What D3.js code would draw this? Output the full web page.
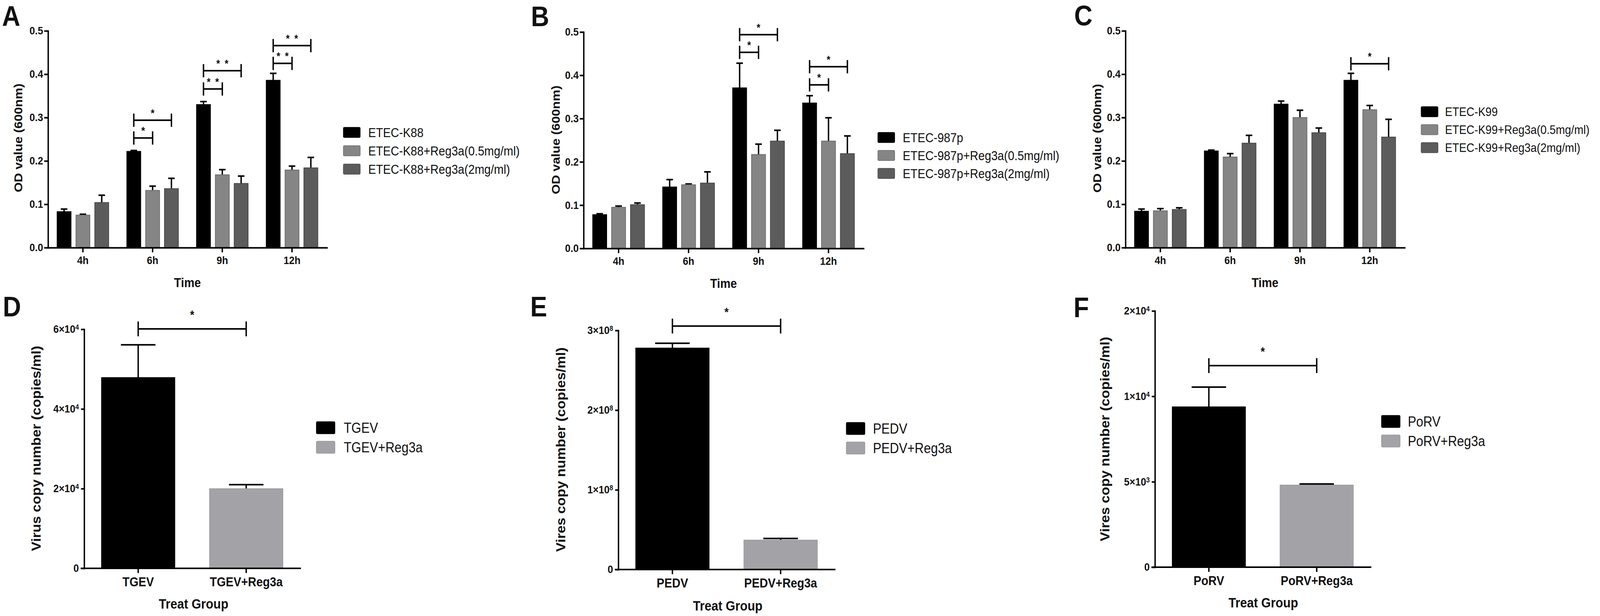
<!DOCTYPE html>
<html lang="en">
<head>
<meta charset="UTF-8">
<title>Reg3a</title>
<style>
  html, body { margin: 0; padding: 0; background: #fff; overflow: hidden; }
  svg text { font-family: "Liberation Sans", Arial, Helvetica, sans-serif; fill: #111; }
</style>
</head>
<body>
<script src="https://cdn.jsdelivr.net/npm/d3@7/dist/d3.min.js"></script>
<script>
// ---- data ----
var times = ["4h", "6h", "9h", "12h"];
var odTicks = [0, 0.1, 0.2, 0.3, 0.4, 0.5];

// A
var k88Names = ["ETEC-K88", "ETEC-K88+Reg3a(0.5mg/ml)", "ETEC-K88+Reg3a(2mg/ml)"];
var k88Mean = [[0.083, 0.222, 0.330, 0.386], [0.075, 0.132, 0.168, 0.179], [0.104, 0.136, 0.148, 0.184]];
var k88Err  = [[0.006, 0.002, 0.007, 0.016], [0.002, 0.010, 0.012, 0.009], [0.017, 0.024, 0.017, 0.024]];
// [time index, from series, to series, bracket level, stars]
var k88Sig = [[1, 0, 1, 0.253, "*"], [1, 0, 2, 0.294, "*"], [2, 0, 1, 0.366, "**"],
              [2, 0, 2, 0.408, "**"], [3, 0, 1, 0.425, "**"], [3, 0, 2, 0.466, "**"]];

// B
var p987Names = ["ETEC-987p", "ETEC-987p+Reg3a(0.5mg/ml)", "ETEC-987p+Reg3a(2mg/ml)"];
var p987Mean = [[0.078, 0.142, 0.371, 0.336], [0.095, 0.147, 0.217, 0.248], [0.101, 0.151, 0.248, 0.219]];
var p987Err  = [[0.002, 0.017, 0.057, 0.017], [0.003, 0.002, 0.024, 0.054], [0.004, 0.026, 0.025, 0.041]];
var p987Sig = [[2, 0, 1, 0.453, "*"], [2, 0, 2, 0.494, "*"], [3, 0, 1, 0.378, "*"], [3, 0, 2, 0.420, "*"]];

// C
var k99Names = ["ETEC-K99", "ETEC-K99+Reg3a(0.5mg/ml)", "ETEC-K99+Reg3a(2mg/ml)"];
var k99Mean = [[0.084, 0.223, 0.331, 0.386], [0.085, 0.209, 0.300, 0.318], [0.088, 0.241, 0.265, 0.255]];
var k99Err  = [[0.005, 0.002, 0.007, 0.016], [0.005, 0.008, 0.017, 0.010], [0.004, 0.018, 0.011, 0.041]];
var k99Sig = [[3, 0, 2, 0.424, "*"]];

// D
var tgevGroups = ["TGEV", "TGEV+Reg3a"];
var tgevMean = [47900, 20000];
var tgevErr = [8200, 1000];
var tgevTicks = [0, 20000, 40000, 60000];
var tgevTickLabels = ["0", "2×10^4", "4×10^4", "6×10^4"];
var tgevSig = [60100, "*"];

// E
var pedvGroups = ["PEDV", "PEDV+Reg3a"];
var pedvMean = [2.78e8, 0.37e8];
var pedvErr = [0.06e8, 0.02e8];
var pedvTicks = [0, 1e8, 2e8, 3e8];
var pedvTickLabels = ["0", "1×10^8", "2×10^8", "3×10^8"];
var pedvSig = [3.055e8, "*"];

// F
var porvGroups = ["PoRV", "PoRV+Reg3a"];
var porvMean = [9390, 4810];
var porvErr = [1150, 60];
var porvTicks = [0, 5000, 10000, 15000];
var porvTickLabels = ["0", "5×10^3", "1×10^4", "2×10^4"];
var porvSig = [11800, "*"];

// ---- styles ----
var fill3 = ["#000000", "#858585", "#5c5c5c"];
var edge3 = ["#000000", "#6b6b6b", "#474747"];
var fill2 = ["#000000", "#a3a3a7"];
var edge2 = ["#000000", "#98989c"];

var W = 4562, H = 1577;
// viewBox stretched to the window so the figure always fills it
var svg = d3.select("body").append("svg")
  .attr("viewBox", "0 0 " + W + " " + H)
  .attr("preserveAspectRatio", "none")
  .style("width", "100vw").style("height", "100vh")
  .style("display", "block");
svg.append("rect").attr("width", W).attr("height", H).attr("fill", "#fff");

function styleAxis(g, fs) {
  g.selectAll("path.domain").attr("stroke", "#000").attr("stroke-width", 4).attr("stroke-linecap", "square");
  g.selectAll(".tick line").attr("stroke", "#000").attr("stroke-width", 4);
  g.selectAll(".tick text").attr("font-size", fs).attr("font-weight", "bold").attr("fill", "#111")
    .style("font-family", '"Liberation Sans", Arial, sans-serif');
}

function panelLetter(t, x, y) {
  svg.append("text").attr("x", x).attr("y", y)
    .attr("font-size", 72).attr("font-weight", "bold").attr("fill", "#000").text(t);
}

function yTitle(t, x, y, fs) {
  svg.append("text").attr("transform", "translate(" + x + "," + y + ") rotate(-90)")
    .attr("text-anchor", "middle").attr("font-size", fs).attr("font-weight", "bold").text(t);
}

function xTitle(t, x, y, fs) {
  svg.append("text").attr("x", x).attr("y", y).attr("text-anchor", "middle")
    .attr("font-size", fs).attr("font-weight", "bold").text(t);
}

function legend(names, fills, edges, o) {
  var lg = svg.append("g");
  var row = lg.selectAll("g").data(names).enter().append("g")
    .attr("transform", function (d, i) { return "translate(0," + o.rows[i] + ")"; });
  row.append("rect").attr("x", o.sx).attr("y", -o.sh / 2).attr("width", o.sw).attr("height", o.sh)
    .attr("rx", 3).attr("fill", function (d, i) { return fills[i]; })
    .attr("stroke", function (d, i) { return edges[i]; }).attr("stroke-width", 1.5);
  row.append("text").attr("x", o.tx).attr("dy", "0.36em").attr("font-size", o.fs)
    .attr("fill", "#111").text(function (d) { return d; });
}

function bracket(x1, x2, yl, stars, half, gap, fs, spacing) {
  svg.append("path")
    .attr("d", "M" + x1 + "," + yl + "H" + x2 +
               "M" + x1 + "," + (yl - half) + "V" + (yl + half) +
               "M" + x2 + "," + (yl - half) + "V" + (yl + half))
    .attr("fill", "none").attr("stroke", "#000").attr("stroke-width", 4);
  var n = stars.length, cx = (x1 + x2) / 2;
  for (var k = 0; k < n; k++) {
    svg.append("text").attr("x", cx + (k - (n - 1) / 2) * spacing).attr("y", yl - gap)
      .attr("text-anchor", "middle").attr("font-size", fs).attr("font-weight", "bold").text("*");
  }
}

// grouped OD charts (A, B, C)
function drawGrouped(o) {
  var x = d3.scaleBand().domain(times).range([o.left, o.right]).paddingInner(0.26).paddingOuter(0.13);
  var xs = d3.scaleBand().domain([0, 1, 2]).range([0, x.bandwidth()]).paddingInner(0.26);
  var y = d3.scaleLinear().domain([0, 0.5]).range([o.bottom, o.top]);
  var bw = xs.bandwidth();

  var rows = [];
  o.mean.forEach(function (s, si) {
    s.forEach(function (v, ti) { rows.push({ si: si, ti: ti, v: v, e: o.err[si][ti] }); });
  });
  function cx(d) { return x(times[d.ti]) + xs(d.si) + bw / 2; }

  var g = svg.append("g");
  g.selectAll("path.err").data(rows).enter().append("path")
    .attr("d", function (d) {
      var c = cx(d), yt = y(d.v + d.e);
      return "M" + c + "," + y(d.v) + "V" + yt + "M" + (c - bw * 0.235) + "," + yt + "H" + (c + bw * 0.235);
    })
    .attr("stroke", "#000").attr("stroke-width", 4).attr("fill", "none");

  g.selectAll("rect.bar").data(rows).enter().append("rect")
    .attr("x", function (d) { return x(times[d.ti]) + xs(d.si); })
    .attr("y", function (d) { return y(d.v); })
    .attr("width", bw)
    .attr("height", function (d) { return y(0) - y(d.v); })
    .attr("fill", function (d) { return fill3[d.si]; })
    .attr("stroke", function (d) { return edge3[d.si]; })
    .attr("stroke-width", 2);

  var ya = svg.append("g").attr("transform", "translate(" + o.left + ",0)")
    .call(d3.axisLeft(y).tickValues(odTicks).tickFormat(d3.format(".1f")).tickSize(11).tickSizeOuter(0).tickPadding(3));
  styleAxis(ya, 28);
  var xa = svg.append("g").attr("transform", "translate(0," + o.bottom + ")")
    .call(d3.axisBottom(x).tickSize(12).tickSizeOuter(0).tickPadding(10));
  styleAxis(xa, 28);

  o.sig.forEach(function (s) {
    var x1 = x(times[s[0]]) + xs(s[1]) + bw / 2;
    var x2 = x(times[s[0]]) + xs(s[2]) + bw / 2;
    bracket(x1, x2, y(s[3]), s[4], 17, 9, 27, 24);
  });

  yTitle("OD value (600nm)", o.ytx, o.yty, 33);
  xTitle("Time", (o.left + o.right) / 2, o.xty, 33);
  legend(o.names, fill3, edge3, o.leg);
}

// two-bar virus charts (D, E, F)
function drawPair(o) {
  var x = d3.scaleBand().domain(o.groups).range([o.left, o.right]).paddingInner(0.32).paddingOuter(0.16);
  var y = d3.scaleLinear().domain([0, o.ticks[o.ticks.length - 1]]).range([o.bottom, o.top]);
  var bw = x.bandwidth();
  var rows = o.groups.map(function (gname, i) { return { g: gname, i: i, v: o.mean[i], e: o.err[i] }; });

  var g = svg.append("g");
  g.selectAll("path.err").data(rows).enter().append("path")
    .attr("d", function (d) {
      var c = x(d.g) + bw / 2, yt = y(d.v + d.e);
      return "M" + c + "," + y(d.v) + "V" + yt + "M" + (c - bw * 0.235) + "," + yt + "H" + (c + bw * 0.235);
    })
    .attr("stroke", "#000").attr("stroke-width", 4).attr("fill", "none");
  g.selectAll("rect.bar").data(rows).enter().append("rect")
    .attr("x", function (d) { return x(d.g); })
    .attr("y", function (d) { return y(d.v); })
    .attr("width", bw)
    .attr("height", function (d) { return y(0) - y(d.v); })
    .attr("fill", function (d) { return fill2[d.i]; })
    .attr("stroke", function (d) { return edge2[d.i]; })
    .attr("stroke-width", 1.5);

  var ya = svg.append("g").attr("transform", "translate(" + o.left + ",0)")
    .call(d3.axisLeft(y).tickValues(o.ticks).tickFormat(function () { return ""; })
      .tickSize(9).tickSizeOuter(0).tickPadding(6));
  styleAxis(ya, 28);
  ya.selectAll(".tick text").each(function (d, i) {
    var parts = o.tickLabels[i].split("^");
    var t = d3.select(this);
    t.append("tspan").text(parts[0]);
    if (parts[1]) t.append("tspan").attr("dy", "-0.45em").attr("font-size", 18).text(parts[1]);
  });

  var xa = svg.append("g").attr("transform", "translate(0," + o.bottom + ")")
    .call(d3.axisBottom(x).tickSize(12).tickSizeOuter(0).tickPadding(11));
  styleAxis(xa, 33);
  xa.select("path.domain").attr("d", "M" + (o.left - 8) + ",0H" + o.right);

  var x1 = x(o.groups[0]) + bw / 2, x2 = x(o.groups[1]) + bw / 2;
  bracket(x1, x2, y(o.sig[0]), o.sig[1], 19, 25, 31, 24);

  yTitle(o.ytitle, o.ytx, o.yty, 36);
  xTitle("Treat Group", o.xtx, o.xty, 35);
  legend(o.groups, fill2, edge2, o.leg);
}

// ---- panels ----
panelLetter("A", 6, 66);
drawGrouped({
  names: k88Names, mean: k88Mean, err: k88Err, sig: k88Sig,
  left: 137, right: 932, top: 79, bottom: 634,
  ytx: 64, yty: 353, xty: 735,
  leg: { sx: 979, sw: 48, sh: 26, tx: 1050, rows: [339, 386, 433], fs: 33 }
});

panelLetter("B", 1514, 67);
drawGrouped({
  names: p987Names, mean: p987Mean, err: p987Err, sig: p987Sig,
  left: 1664, right: 2462, top: 82, bottom: 636,
  ytx: 1596, yty: 358, xty: 737,
  leg: { sx: 2503, sw: 48, sh: 26, tx: 2574, rows: [352, 398, 444], fs: 33 }
});

panelLetter("C", 3063, 65);
drawGrouped({
  names: k99Names, mean: k99Mean, err: k99Err, sig: k99Sig,
  left: 3209, right: 4005, top: 79, bottom: 634,
  ytx: 3140, yty: 354, xty: 735,
  leg: { sx: 4052, sw: 48, sh: 26, tx: 4120, rows: [286, 332, 378], fs: 31.5 }
});

panelLetter("D", 8, 810);
drawPair({
  groups: tgevGroups, mean: tgevMean, err: tgevErr, ticks: tgevTicks, tickLabels: tgevTickLabels, sig: tgevSig,
  left: 240, right: 856, top: 843, bottom: 1455,
  ytitle: "Virus copy number (copies/ml)", ytx: 116, yty: 1148, xtx: 552, xty: 1558,
  leg: { sx: 902, sw: 53, sh: 31, tx: 980, rows: [1095, 1145], fs: 36 }
});

panelLetter("E", 1512, 810);
drawPair({
  groups: pedvGroups, mean: pedvMean, err: pedvErr, ticks: pedvTicks, tickLabels: pedvTickLabels, sig: pedvSig,
  left: 1763, right: 2380, top: 846, bottom: 1458,
  ytitle: "Vires copy number (copies/ml)", ytx: 1612, yty: 1151, xtx: 2075, xty: 1563,
  leg: { sx: 2413, sw: 53, sh: 31, tx: 2489, rows: [1097, 1147], fs: 36 }
});

panelLetter("F", 3061, 812);
drawPair({
  groups: porvGroups, mean: porvMean, err: porvErr, ticks: porvTicks, tickLabels: porvTickLabels, sig: porvSig,
  left: 3293, right: 3908, top: 796, bottom: 1452,
  ytitle: "Vires copy number (copies/ml)", ytx: 3163, yty: 1124, xtx: 3602, xty: 1555,
  leg: { sx: 3939, sw: 53, sh: 31, tx: 4014, rows: [1079, 1129], fs: 36 }
});
</script>
</body>
</html>
